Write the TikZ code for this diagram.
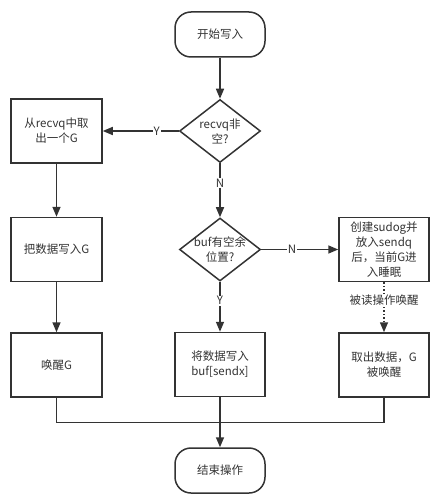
\documentclass[tikz,border=0pt]{standalone}
\usepackage{fontspec}
\setmainfont{Noto Sans CJK SC}
\usetikzlibrary{arrows.meta, positioning, shapes.geometric, calc}

\begin{document}
\begin{tikzpicture}[
        x=1pt, y=1pt,
        font=\fontsize{11.5}{15}\selectfont,
        every node/.style={text=black!80},
        term/.style={rectangle, draw=black!80, line width=1.5pt, minimum width=90pt, minimum height=45pt, rounded corners=16pt},
        proc/.style={rectangle, draw=black!80, line width=1.5pt, minimum width=91pt, minimum height=64pt, align=center, inner sep=2pt},
        decision/.style={diamond, draw=black!80, line width=1.5pt, minimum width=81pt, minimum height=63pt, inner sep=0pt},
        arrow/.style={-{Triangle[length=10pt, width=8pt]}},
        flow/.style={draw=black!80, line width=1.5pt},
        branch/.style={fill=white, inner sep=1pt}
    ]
    \useasboundingbox (0,0) rectangle (439,-497);

    % start and first test
    \node (start) [term] at (220,-34.5) {开始写入};
    \node (isrecv) [decision, below=41pt of start, label={[align=center]center:recvq非\\空?}] {};

    % (Y) a receiver is waiting
    \node (takeG) [proc, left=76pt of isrecv] {从recvq中取\\出一个G};
    \node (copyG) [proc, below=53pt of takeG] {把数据写入G};
    \node (wakeG) [proc, below=50pt of copyG] {唤醒G};

    % (N) buffer or park
    \node (hasbuf) [decision, below=54pt of isrecv, label={[align=center]center:buf有空余\\位置?}] {};
    \node (tobuf) [proc, minimum width=90pt, below=50pt of hasbuf] {将数据写入\\buf[sendx]};
    \node (park) [proc, minimum width=90pt, right=77pt of hasbuf] {创建sudog并\\放入sendq\\后，当前G进\\入睡眠};
    \node (resume) [proc, minimum width=90pt, below=50pt of park] {取出数据，G\\被唤醒};
    \node (stop) [term, below=50pt of tobuf] {结束操作};

    \draw[flow, arrow] (start) -- (isrecv);
    \draw[flow, arrow] (isrecv) -- node[branch, pos=0.29] {Y} (takeG);
    \draw[flow, arrow] (isrecv) -- node[branch, pos=0.37] {N} (hasbuf);
    \draw[flow, arrow] (takeG) -- (copyG);
    \draw[flow, arrow] (copyG) -- (wakeG);
    \draw[flow, arrow] (hasbuf) -- node[branch, pos=0.4] {N} (park);
    \draw[flow, arrow] (hasbuf) -- node[branch, pos=0.38] {Y} (tobuf);
    \draw[flow, arrow, dotted] (park) -- node[branch, pos=0.36] {被读操作唤醒} (resume);

    % merge into the end
    \coordinate (join) at ($(tobuf.south)!0.5!(stop.north)$);
    \draw[flow] (wakeG.south) |- (join) -| (resume.south);
    \draw[flow, arrow] (tobuf) -- (stop);
\end{tikzpicture}
\end{document}
